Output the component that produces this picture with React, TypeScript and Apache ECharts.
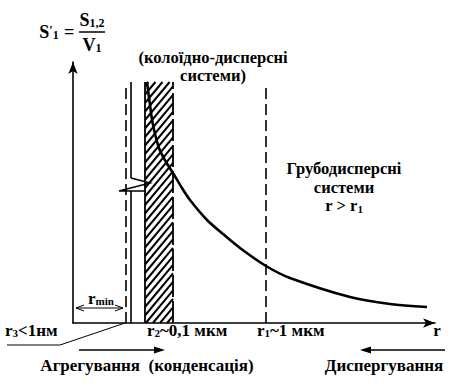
import React, { useEffect, useRef } from "react";
import * as echarts from "echarts";

// Schematic curve S'1 = S1,2 / V1 against particle radius r (arbitrary linear units)
const curveR = [74, 77, 80, 86, 93, 100, 109, 117, 134, 150, 167, 193, 217, 277, 317, 354];
const curveS = [241, 218, 198, 175, 161, 150, 135, 123, 103, 89, 75, 57, 45, 26, 19, 16];

// axis ranges
const rMax = 362;
const sMax = 261;

// boundaries of the regions (same units)
const rMinBound = 53; // r3 < 1 нм (dashed)
const solidR = 58; // broken line
const bandR = [72, 100]; // hatched colloid band, up to r2 ~ 0,1 мкм
const r1Bound = 193; // r1 ~ 1 мкм (dashed)
const dashedTop = 235;
const bandTop = 241;
const breakLow = 132;
const breakHigh = 145;
const zigzag = [
  [58, 145],
  [77, 140],
  [46, 132],
  [73, 132],
];
const rMinArrowS = 15;
const rMinArrowR = [3, 50];
const leader = [
  [-66, -22],
  [-13, -22],
  [52, 0],
];

const FAM = "Liberation Serif";

function richStyles(size: number, lh: number) {
  const ss = Math.round(size * 0.65);
  const ps = Math.round(size * 0.7);
  const base = { fontFamily: FAM, fontWeight: "bold", fill: "#000" };
  return {
    m: { ...base, fontSize: size, lineHeight: lh },
    s: { ...base, fontSize: ss, lineHeight: ss - 2 + (lh - size), verticalAlign: "bottom" },
    p: { ...base, fontSize: ps, lineHeight: ps - 2, verticalAlign: "top" },
  };
}

function T(text: string, x: number, y: number, align = "center", size = 17, lh = size) {
  return {
    type: "text",
    x,
    y,
    silent: true,
    style: {
      text,
      rich: richStyles(size, lh),
      fontFamily: FAM,
      fontWeight: "bold",
      fontSize: size,
      fill: "#000",
      align,
      textAlign: align,
      verticalAlign: "middle",
      textVerticalAlign: "middle",
    },
  };
}

function arrowLine(x1: number, x2: number, y: number) {
  const dir = x2 > x1 ? 1 : -1;
  return [
    { type: "line", silent: true, shape: { x1, y1: y, x2: x2 - dir * 6, y2: y }, style: { stroke: "#000", lineWidth: 1.5 } },
    {
      type: "polygon",
      silent: true,
      shape: { points: [[x2, y], [x2 - dir * 11, y - 3.5], [x2 - dir * 11, y + 3.5]] },
      style: { fill: "#000" },
    },
  ];
}

export default function App() {
  const ref = useRef<HTMLDivElement>(null);
  useEffect(() => {
    const chart = echarts.init(ref.current!, null, { renderer: "svg" });
    const option: any = {
      animation: false,
      backgroundColor: "#fff",
      grid: { left: 73, top: 62, width: 362, height: 261 },
      xAxis: {
        type: "value",
        min: 0,
        max: rMax,
        axisLine: { show: true, symbol: ["none", "arrow"], symbolSize: [7, 12], lineStyle: { color: "#000", width: 1.6 } },
        axisTick: { show: false },
        axisLabel: { show: false },
        splitLine: { show: false },
      },
      yAxis: {
        type: "value",
        min: 0,
        max: sMax,
        axisLine: { show: true, symbol: ["none", "arrow"], symbolSize: [7, 12], lineStyle: { color: "#000", width: 1.6 } },
        axisTick: { show: false },
        axisLabel: { show: false },
        splitLine: { show: false },
      },
      series: [
        {
          type: "custom",
          z: 1,
          silent: true,
          clip: false,
          data: [[0, 0]],
          renderItem: (_p: any, api: any) => {
            const P = (x: number, y: number) => api.coord([x, y]);
            const children: any[] = [];
            const line = (a: number[], b: number[], w: number, dash?: number[]) =>
              children.push({
                type: "line",
                shape: { x1: a[0], y1: a[1], x2: b[0], y2: b[1] },
                style: { stroke: "#000", lineWidth: w, lineDash: dash, fill: null },
              });
            // hatched band
            const [xl, yb] = P(bandR[0], 0);
            const [xr, yt] = P(bandR[1], bandTop);
            const w = xr - xl;
            const rise = w * 1.2;
            for (let c = yt + 4; c <= yb + rise; c += 8.5) {
              const t0 = Math.max(0, (c - yb) / rise);
              const t1 = Math.min(1, (c - yt) / rise);
              if (t1 > t0) line([xl + t0 * w, c - t0 * rise], [xl + t1 * w, c - t1 * rise], 2);
            }
            line([xl, yb], [xl, yt], 1.8);
            line([xr, yb], [xr, yt], 1.8, [22, 4]);
            // dashed boundaries
            line(P(rMinBound, 0), P(rMinBound, dashedTop), 1.6, [11, 5]);
            line(P(r1Bound, 0), P(r1Bound, dashedTop), 1.6, [11, 5]);
            // broken solid line
            line(P(solidR, 0), P(solidR, breakLow), 1.6);
            line(P(solidR, breakHigh), P(solidR, bandTop), 1.6);
            children.push({
              type: "polyline",
              shape: { points: zigzag.map((q) => P(q[0], q[1])) },
              style: { stroke: "#000", lineWidth: 1.5, fill: null },
            });
            // r_min double arrow
            const a = P(rMinArrowR[0], rMinArrowS);
            const b = P(rMinArrowR[1], rMinArrowS);
            line(a, b, 1);
            children.push({
              type: "polyline",
              shape: { points: [[a[0] + 8, a[1] - 3], a, [a[0] + 8, a[1] + 3]] },
              style: { stroke: "#000", lineWidth: 1, fill: null },
            });
            children.push({
              type: "polyline",
              shape: { points: [[b[0] - 8, b[1] - 3], b, [b[0] - 8, b[1] + 3]] },
              style: { stroke: "#000", lineWidth: 1, fill: null },
            });
            // leader line to r3
            children.push({
              type: "polyline",
              shape: { points: leader.map((q) => P(q[0], q[1])) },
              style: { stroke: "#000", lineWidth: 1, fill: null },
            });
            return { type: "group", children };
          },
        },
        {
          type: "line",
          z: 3,
          silent: true,
          smooth: 0.3,
          showSymbol: false,
          lineStyle: { color: "#000", width: 2.6 },
          data: curveR.map((r, i) => [r, curveS[i]]),
        },
      ],
      graphic: [
        // formula
        T("{m|S}{p|′}{s|1}", 49, 32, "center", 18),
        T("{m|=}", 69, 32, "center", 18),
        T("{m|S}{s|1,2}", 92, 20, "center", 18),
        { type: "line", silent: true, shape: { x1: 79, y1: 32, x2: 105, y2: 32 }, style: { stroke: "#000", lineWidth: 1.5 } },
        T("{m|V}{s|1}", 92, 45, "center", 18),
        // region labels
        T("{m|(колоїдно-дисперсні}\n{m|системи)}", 213, 66.5, "center", 16.5, 18.5),
        T("{m|Грубодисперсні}\n{m|системи}\n{m|r > r}{s|1}", 344, 187, "center", 16.5, 18.5),
        // radius labels
        T("{m|r}{s|min}", 101, 298),
        T("{m|r}{s|3}{m|<1нм}", 5, 330, "left"),
        T("{m|r}{s|2}{m|~0,1 мкм}", 147, 330, "left"),
        T("{m|r}{s|1}{m|~1 мкм}", 257, 330, "left"),
        T("{m|r}", 437, 330),
        // process arrows
        ...arrowLine(79, 165, 350),
        ...arrowLine(445, 360, 350),
        T("{m|Агрегування  (конденсація)}", 147, 365),
        T("{m|Диспергування}", 384, 365),
      ],
    };
    chart.setOption(option);
    return () => chart.dispose();
  }, []);
  return (
    <div
      ref={ref}
      style={{ position: "fixed", left: 0, top: 0, width: 460, height: 386, background: "#fff" }}
    />
  );
}
